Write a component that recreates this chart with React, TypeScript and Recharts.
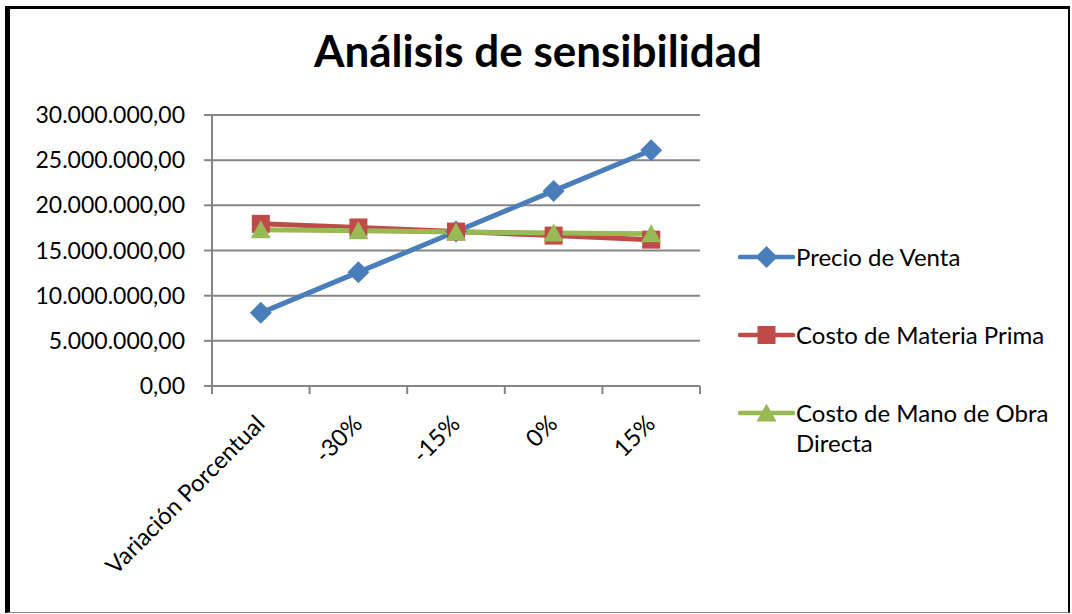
import { CartesianGrid, Legend, Line, LineChart, XAxis, YAxis } from "recharts"

const categories = ["Variación Porcentual", "-30%", "-15%", "0%", "15%"]
const precioVenta = [8100000, 12600000, 17100000, 21600000, 26100000]
const materiaPrima = [17950000, 17550000, 17100000, 16650000, 16200000]
const manoObra = [17300000, 17200000, 17050000, 16950000, 16850000]
const yTicks = [0, 5000000, 10000000, 15000000, 20000000, 25000000, 30000000]

const data = categories.map((name, i) => ({
  name,
  precio: precioVenta[i],
  materia: materiaPrima[i],
  mano: manoObra[i],
}))

const FONT = "Lato, 'Open Sans', sans-serif"
const GRAY = "#868686"
const BLUE = "#4A7EBB"
const RED = "#BE4B48"
const GREEN = "#98B954"

const PLOT_LEFT = 212
const PLOT_RIGHT = 700
const BAND = (PLOT_RIGHT - PLOT_LEFT) / categories.length

const seriesOrder = ["precio", "materia", "mano"]

const fmt = (v: number) => Math.round(v).toString().replace(/\B(?=(\d{3})+(?!\d))/g, ".") + ",00"

function Marker({ shape, cx, cy, fill }: { shape: string; cx: number; cy: number; fill: string }) {
  if (shape === "diamond")
    return <path d={`M${cx},${cy - 11}L${cx + 11},${cy}L${cx},${cy + 11}L${cx - 11},${cy}Z`} fill={fill} />
  if (shape === "square") return <rect x={cx - 9} y={cy - 9} width={18} height={18} fill={fill} />
  return <path d={`M${cx},${cy - 9.5}L${cx + 10},${cy + 8.5}L${cx - 10},${cy + 8.5}Z`} fill={fill} />
}

const shapes: Record<string, string> = { precio: "diamond", materia: "square", mano: "triangle" }

const dotFor = (key: string, color: string) => (p: any) => (
  <Marker key={`${key}-${p.index}`} shape={shapes[key]} cx={p.cx} cy={p.cy} fill={color} />
)

function XTick(props: any) {
  const { x, y, payload, index } = props
  const half = BAND / 2
  return (
    <g>
      <line x1={x - half} x2={x - half} y1={y} y2={y + 8} stroke={GRAY} strokeWidth={2} />
      {index === categories.length - 1 && (
        <line x1={x + half} x2={x + half} y1={y} y2={y + 8} stroke={GRAY} strokeWidth={2} />
      )}
      <text
        transform={`translate(${x - 1},${y + 33}) rotate(-45)`}
        textAnchor="end"
        dominantBaseline="central"
        fontSize={23.7}
        fontFamily={FONT}
        fill="#000"
      >
        {payload.value}
      </text>
    </g>
  )
}

function LegendContent({ payload }: any) {
  const items = [...(payload || [])].sort(
    (a: any, b: any) => seriesOrder.indexOf(a.dataKey) - seriesOrder.indexOf(b.dataKey)
  )
  return (
    <div style={{ fontFamily: FONT, fontSize: 24, lineHeight: "30px", color: "#000" }}>
      {items.map((entry: any, i: number) => (
        <div key={entry.value} style={{ display: "flex", alignItems: "flex-start", marginBottom: i < 2 ? 48 : 0 }}>
          <svg width={58} height={30} style={{ flex: "none" }}>
            <line x1={2} x2={55} y1={15} y2={15} stroke={entry.color} strokeWidth={4.5} strokeLinecap="round" />
            <Marker shape={shapes[entry.dataKey]} cx={28.5} cy={15} fill={entry.color} />
          </svg>
          <span style={{ width: 262 }}>{entry.value}</span>
        </div>
      ))}
    </div>
  )
}

export default function App() {
  return (
    <div style={{ position: "absolute", left: 0, top: 0, width: 1072, height: 614, background: "#fff" }}>
      <div
        style={{
          position: "absolute",
          left: 5,
          top: 6,
          right: 2,
          bottom: 1,
          borderLeft: "5px solid #000",
          borderTop: "3px solid #000",
          borderRight: "2px solid #000",
          borderBottom: "1px solid #888",
        }}
      />
      <div
        style={{
          position: "absolute",
          left: 0,
          width: 1076,
          top: 24,
          textAlign: "center",
          fontFamily: FONT,
          fontWeight: 700,
          fontSize: 44,
          lineHeight: "53px",
          color: "#000",
        }}
      >
        Análisis de sensibilidad
      </div>
      <LineChart
        width={1072}
        height={614}
        data={data}
        margin={{ top: 115, right: 1072 - PLOT_RIGHT, bottom: 198, left: 12 }}
      >
        <CartesianGrid vertical={false} stroke={GRAY} strokeWidth={2} />
        <XAxis
          dataKey="name"
          scale="band"
          interval={0}
          height={30}
          tickSize={0}
          tickMargin={0}
          tickLine={false}
          axisLine={{ stroke: GRAY, strokeWidth: 2 }}
          tick={<XTick />}
        />
        <YAxis
          width={200}
          domain={[0, 30000000]}
          ticks={yTicks}
          tickFormatter={fmt}
          tickSize={8}
          tickMargin={19}
          tickLine={{ stroke: GRAY, strokeWidth: 2 }}
          axisLine={{ stroke: GRAY, strokeWidth: 2 }}
          tick={{ fill: "#000", fontSize: 23, fontFamily: FONT }}
        />
        <Legend
          layout="vertical"
          align="center"
          verticalAlign="middle"
          wrapperStyle={{ left: 738, top: 242, width: 330 }}
          content={<LegendContent />}
        />
        <Line
          dataKey="precio"
          name="Precio de Venta"
          stroke={BLUE}
          strokeWidth={5}
          dot={dotFor("precio", BLUE)}
          isAnimationActive={false}
        />
        <Line
          dataKey="materia"
          name="Costo de Materia Prima"
          stroke={RED}
          strokeWidth={5}
          dot={dotFor("materia", RED)}
          isAnimationActive={false}
        />
        <Line
          dataKey="mano"
          name="Costo de Mano de Obra Directa"
          stroke={GREEN}
          strokeWidth={5}
          dot={dotFor("mano", GREEN)}
          isAnimationActive={false}
        />
      </LineChart>
    </div>
  )
}
